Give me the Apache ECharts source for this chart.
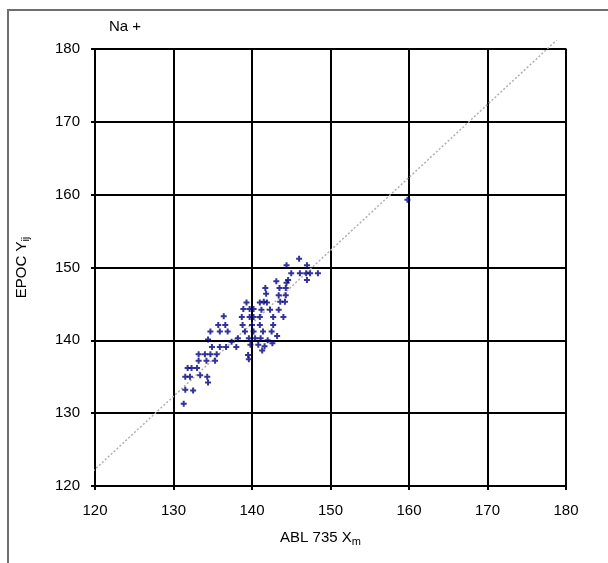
<!DOCTYPE html>
<html>
<head>
<meta charset="utf-8">
<script src="https://cdn.jsdelivr.net/npm/echarts@6/dist/echarts.min.js"></script>
<style>
  html, body { margin: 0; padding: 0; background: #ffffff; }
  #chart { width: 608px; height: 563px; }
</style>
</head>
<body>
<div id="chart"></div>
<script>
// Na+ method comparison: ABL 735 (x) vs EPOC (y)
const titleText = 'Na +';
const xTickLabels = [120, 130, 140, 150, 160, 170, 180];
const yTickLabels = [120, 130, 140, 150, 160, 170, 180];

const ablX = [
  136.4, 135.7, 136.6, 134.7, 135.9, 136.9, 134.4, 134.9, 135.9, 136.7,
  133.2, 134.0, 134.7, 135.5, 133.2, 134.2, 135.3, 131.8, 132.3, 133.0,
  133.4, 131.5, 132.1, 134.3, 134.4, 131.5, 132.5, 131.3,
  146.0, 144.4, 147.0, 145.0, 146.1, 146.9, 147.4, 148.4, 144.6, 147.0,
  143.1, 144.4, 141.7, 143.5, 144.3, 141.8, 143.4, 144.3, 141.5, 143.6,
  144.2, 139.3, 141.0, 141.9, 138.9, 139.7, 140.2, 141.2, 142.3, 143.4,
  138.7, 139.7, 140.2, 141.0, 142.7, 144.0, 138.8, 140.0, 141.0, 142.7,
  139.1, 140.2, 141.4, 142.5,
  138.2, 139.6, 140.4, 141.1, 142.0, 139.8, 140.8, 141.6, 142.6, 143.2,
  137.4, 139.5, 139.6, 141.3, 138.0,
  159.8
];
const epocY = [
  143.3, 142.1, 142.1, 141.2, 141.2, 141.2, 140.1, 139.1, 139.1, 139.1,
  138.1, 138.1, 138.1, 138.1, 137.2, 137.2, 137.2, 136.2, 136.2, 136.2,
  135.2, 135.0, 135.0, 135.0, 134.2, 133.2, 133.1, 131.3,
  151.2, 150.3, 150.3, 149.2, 149.2, 149.2, 149.2, 149.2, 148.3, 148.3,
  148.1, 147.9, 147.2, 147.2, 147.2, 146.4, 146.2, 146.2, 145.3, 145.3,
  145.3, 145.2, 145.2, 145.2, 144.3, 144.3, 144.3, 144.2, 144.2, 144.2,
  143.2, 143.2, 143.2, 143.2, 143.2, 143.2, 142.1, 142.1, 142.1, 142.1,
  141.2, 141.2, 141.2, 141.2,
  140.3, 140.3, 140.3, 140.3, 140.0, 139.4, 139.4, 139.2, 139.6, 140.6,
  139.8, 138.0, 137.4, 138.6, 139.1,
  159.3
];

// fitted reference line end points
const fitX = [119.4, 178.8];
const fitY = [121.7, 181.2];

const pointData = ablX.map((x, i) => [x, epocY[i]]);
const fitData = fitX.map((x, i) => [x, fitY[i]]);

const font = 'Liberation Sans, Arial, sans-serif';
// solid "+" marker with 2-unit arms on a 6x6 box
const plusSymbol = 'path://M2,0H4V2H6V4H4V6H2V4H0V2H2Z';

const chart = echarts.init(document.getElementById('chart'), null, { renderer: 'canvas' });

chart.setOption({
  animation: false,
  backgroundColor: '#ffffff',
  title: {
    text: titleText,
    left: 104,
    top: 14,
    textStyle: { fontFamily: font, fontSize: 15, fontWeight: 'normal', color: '#000' }
  },
  graphic: [{
    type: 'rect',
    shape: { x: 8, y: 10, width: 700, height: 700 },
    style: { fill: 'none', stroke: '#6e6e6e', lineWidth: 2 },
    silent: true,
    z: 0
  }],
  grid: {
    left: 95, right: 42, top: 49, bottom: 77,
    show: true,
    borderColor: '#8c8c8c',
    borderWidth: 2,
    backgroundColor: 'transparent'
  },
  xAxis: {
    type: 'value',
    min: 120, max: 180, interval: 10,
    name: 'ABL 735 X{sub|m}',
    nameLocation: 'middle',
    nameGap: 42,
    nameTextStyle: {
      fontFamily: font, fontSize: 15, color: '#000', padding: [0, 20, 0, 0],
      rich: { sub: { fontFamily: font, fontSize: 11, color: '#000', verticalAlign: 'bottom', padding: [8, 0, 0, 0] } }
    },
    axisLine: { show: true, onZero: false, lineStyle: { color: '#000', width: 2 } },
    axisTick: { show: true, length: 4, lineStyle: { color: '#000', width: 2 } },
    axisLabel: {
      fontFamily: font, fontSize: 15, color: '#000', margin: 17,
      formatter: v => xTickLabels.includes(v) ? String(v) : ''
    },
    splitLine: { show: true, lineStyle: { color: '#000', width: 2 } }
  },
  yAxis: {
    type: 'value',
    min: 120, max: 180, interval: 10,
    name: 'EPOC Y{sub|ij}',
    nameLocation: 'middle',
    nameGap: 64,
    nameRotate: 90,
    nameTextStyle: {
      fontFamily: font, fontSize: 15, color: '#000',
      rich: { sub: { fontFamily: font, fontSize: 11, color: '#000', verticalAlign: 'bottom', padding: [8, 0, 0, 0] } }
    },
    axisLine: { show: true, onZero: false, lineStyle: { color: '#000', width: 2 } },
    axisTick: { show: true, length: 4, lineStyle: { color: '#000', width: 2 } },
    axisLabel: {
      fontFamily: font, fontSize: 15, color: '#000', margin: 15,
      formatter: v => yTickLabels.includes(v) ? String(v) : ''
    },
    splitLine: { show: true, lineStyle: { color: '#000', width: 2 } }
  },
  series: [
    {
      type: 'line',
      data: fitData,
      clip: false,
      symbol: 'none',
      silent: true,
      lineStyle: { color: '#b0b0b0', width: 1.5, type: [2, 2] },
      z: 3
    },
    {
      type: 'scatter',
      data: pointData,
      symbol: plusSymbol,
      symbolSize: 6,
      itemStyle: { color: '#000080' },
      z: 4
    }
  ]
});
</script>
</body>
</html>
